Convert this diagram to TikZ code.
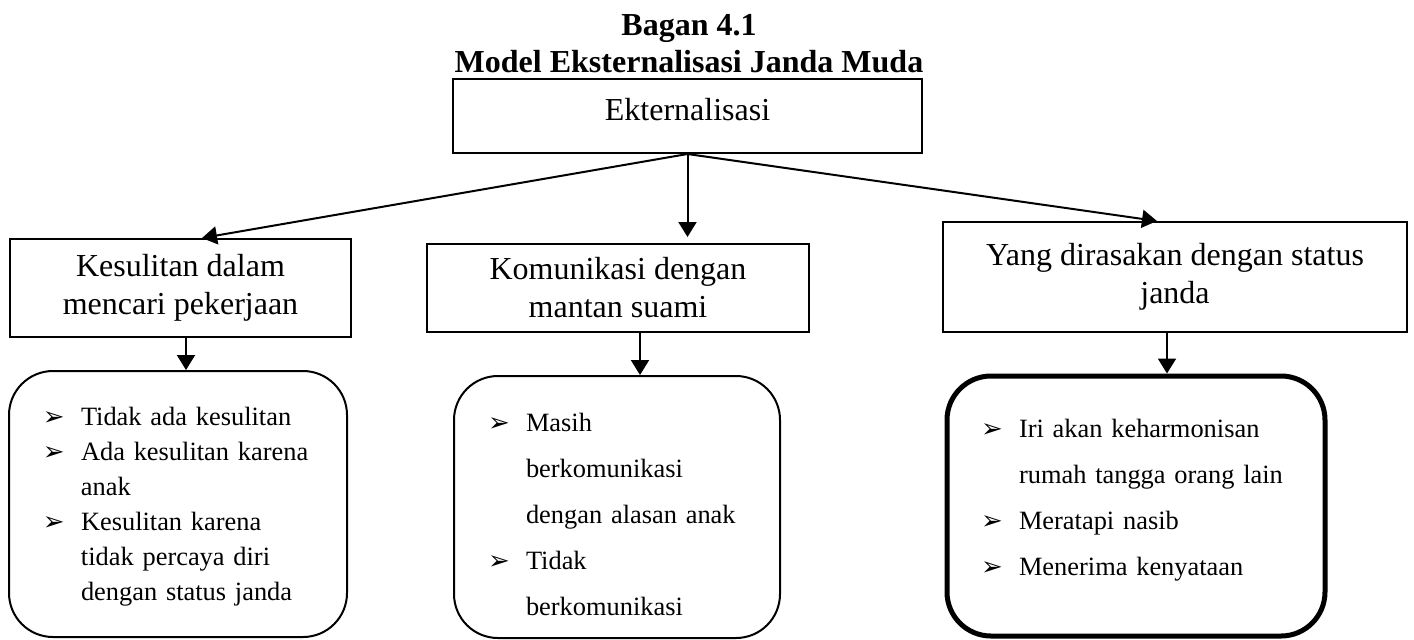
\documentclass[tikz,border=0pt]{standalone}
\usepackage{fontspec}
\setmainfont{Liberation Serif}
\newfontfamily\simbol{DejaVu Sans}
\usetikzlibrary{arrows.meta}
\newcommand{\panah}{{\simbol\fontsize{13}{13}\selectfont ➢}}
\newcommand{\butir}[1]{\par\noindent\hspace*{17pt}\makebox[19pt][l]{\panah}#1}
\newcommand{\lanjut}[1]{\par\noindent\hspace*{36pt}#1}
\begin{document}
\begin{tikzpicture}[x=0.5pt,y=-0.5pt,
  judulstyle/.style={anchor=base,font=\bfseries\fontsize{16}{19}\selectfont},
  kotak/.style={draw,line width=1pt,align=center,font=\fontsize{16}{19}\selectfont},
  daftar/.style={draw,line width=1pt,rounded corners=22pt,inner xsep=0pt,text width=#1,align=left},
  garis/.style={line width=1pt,-{Triangle[length=7.5pt,width=9pt]}}]
\useasboundingbox (0,0) rectangle (1414,639);
% judul
\node[judulstyle] (judul) at (689,35) {Bagan 4.1};
\node[judulstyle] (subjudul) at (689,72) {Model Eksternalisasi Janda Muda};
% kotak atas
\node[kotak,minimum width=234.5pt,minimum height=37pt,text depth=7pt] (ekst) at (687.5,116) {Ekternalisasi};
\node[kotak,minimum width=170.5pt,minimum height=49pt] (k1) at (180.5,288) {Kesulitan dalam\\mencari pekerjaan};
\node[kotak,minimum width=191pt,minimum height=44pt] (k2) at (618,288) {Komunikasi dengan\\mantan suami};
\node[kotak,minimum width=232pt,minimum height=55pt] (k3) at (1175,277) {Yang dirasakan dengan status\\janda};
% kotak bawah
\node[daftar=169pt,minimum height=133pt,font=\fontsize{13.2}{17.5}\selectfont] (d1) at (178,504) {%
  \butir{Tidak ada kesulitan}
  \butir{Ada kesulitan karena}
  \lanjut{anak}
  \butir{Kesulitan karena}
  \lanjut{tidak percaya diri}
  \lanjut{dengan status janda}
  \par\kern6pt};
\node[daftar=163pt,minimum height=131pt,font=\fontsize{13.2}{23}\selectfont] (d2) at (617,507) {%
  \butir{Masih}
  \lanjut{berkomunikasi}
  \lanjut{dengan alasan anak}
  \butir{Tidak}
  \lanjut{berkomunikasi}
  \par\kern6pt};
\node[daftar=189pt,minimum height=130pt,line width=2.5pt,font=\fontsize{13.2}{23}\selectfont] (d3) at (1136,506) {%
  \butir{Iri akan keharmonisan}
  \lanjut{rumah tangga orang lain}
  \butir{Meratapi nasib}
  \butir{Menerima kenyataan}
  \par\kern20pt};
% panah
\draw[garis] (ekst.south) -- ([xshift=10.75pt]k1.north);
\draw[garis,shorten >=3pt] (ekst.south) -- (ekst.south |- k2.north);
\draw[garis] (ekst.south) -- ([xshift=-9pt]k3.north);
\coordinate (p1) at ([xshift=2.75pt]k1.south);
\coordinate (p2) at ([xshift=11pt]k2.south);
\coordinate (p3) at ([xshift=-4pt]k3.south);
\draw[garis] (p1) -- (p1 |- d1.north);
\draw[garis] (p2) -- (p2 |- d2.north);
\draw[garis] (p3) -- (p3 |- d3.north);
\end{tikzpicture}
\end{document}
